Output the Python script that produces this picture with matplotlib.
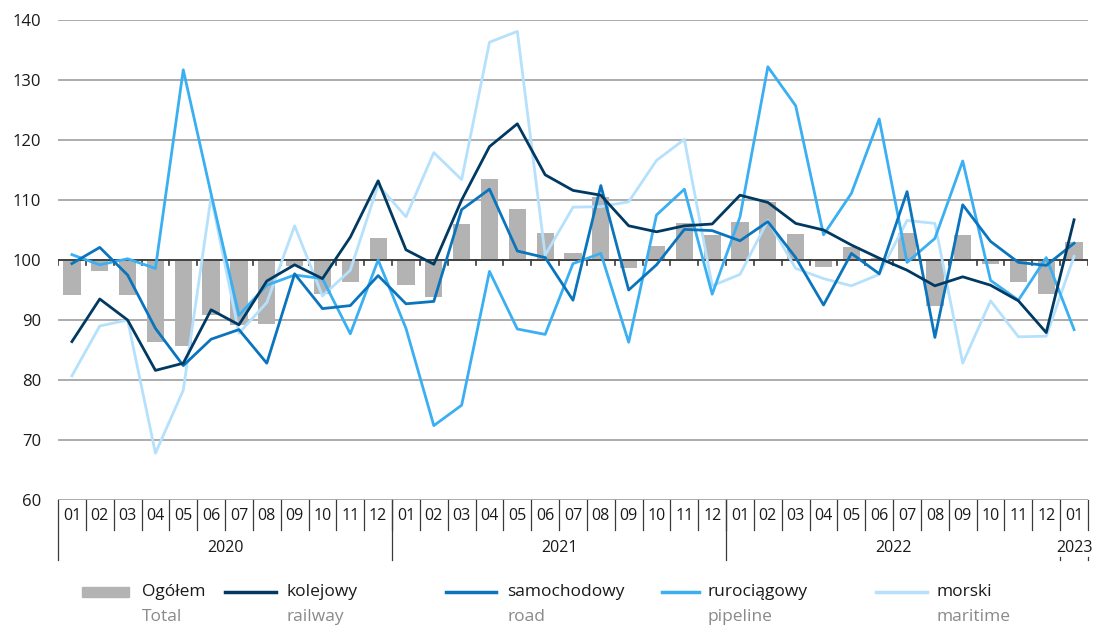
import matplotlib
matplotlib.use("Agg")
import matplotlib.pyplot as plt
from matplotlib.transforms import blended_transform_factory
import numpy as np

plt.rcParams['font.family'] = ['Open Sans', 'DejaVu Sans']

months = ["01","02","03","04","05","06","07","08","09","10","11","12"] * 3 + ["01"]
years = ["2020", "2021", "2022", "2023"]
year_counts = [12, 12, 12, 1]

total = [94.1, 98.2, 94.2, 86.4, 85.6, 90.8, 89.2, 89.3, 99.0, 94.3, 96.4, 103.6,
         95.8, 93.8, 106.0, 113.5, 108.5, 104.5, 101.2, 110.5, 98.7, 102.3, 106.1, 104.1,
         106.4, 109.6, 104.3, 98.8, 102.2, 100.4, 104.5, 92.4, 104.2, 99.3, 96.4, 94.4,
         103.0]
railway = [86.4, 93.5, 90.0, 81.6, 82.8, 91.7, 89.2, 96.5, 99.2, 96.9, 103.8, 113.2,
           101.7, 99.3, 110.0, 118.9, 122.7, 114.2, 111.6, 110.8, 105.7, 104.7, 105.7, 106.0,
           110.8, 109.6, 106.1, 105.0, 102.5, 100.3, 98.3, 95.7, 97.2, 95.8, 93.2, 87.9,
           106.7]
road = [99.4, 102.1, 97.5, 88.6, 82.4, 86.8, 88.4, 82.8, 97.7, 91.9, 92.4, 97.4,
        92.7, 93.1, 108.4, 111.8, 101.5, 100.4, 93.3, 112.4, 95.0, 99.2, 105.1, 104.9,
        103.2, 106.4, 100.4, 92.5, 101.1, 97.7, 111.4, 87.1, 109.2, 103.1, 99.6, 99.1,
        102.8]
pipeline = [100.9, 99.2, 100.2, 98.6, 131.7, 111.0, 90.8, 95.8, 97.5, 96.9, 87.7, 100.0,
            88.6, 72.4, 75.8, 98.1, 88.5, 87.6, 99.4, 101.1, 86.3, 107.5, 111.8, 94.3,
            107.2, 132.2, 125.7, 104.2, 111.1, 123.5, 99.6, 103.6, 116.5, 96.6, 93.3, 100.4,
            88.4]
maritime = [80.7, 89.0, 90.0, 67.8, 78.3, 110.6, 87.8, 92.9, 105.7, 94.0, 98.3, 112.5,
            107.2, 117.9, 113.4, 136.3, 138.1, 100.8, 108.8, 108.9, 109.7, 116.6, 120.1, 95.7,
            97.6, 106.6, 98.6, 96.9, 95.7, 97.6, 106.6, 106.1, 82.8, 93.2, 87.2, 87.3,
            100.6]

series_names = ["Ogółem", "kolejowy", "samochodowy", "rurociągowy", "morski"]
series_en = ["Total", "railway", "road", "pipeline", "maritime"]
yticks = [60, 70, 80, 90, 100, 110, 120, 130, 140]

c_bar = "#B3B3B3"
c_rail = "#003A63"
c_road = "#0A75BD"
c_pipe = "#3AAFF2"
c_mar = "#B5E1FD"

W, H = 1101, 627
fig = plt.figure(figsize=(W / 100, H / 100), dpi=100)
x0, x1, y0, y1 = 58, 1088, 20, 500
ax = fig.add_axes([x0 / W, 1 - y1 / H, (x1 - x0) / W, (y1 - y0) / H])

n = len(months)
x = np.arange(n)
ax.set_xlim(-0.5, n - 0.5)
ax.set_ylim(60, 140)

for yv in yticks:
    ax.axhline(yv, color="#A6A6A6", lw=1.3, zorder=0)

base = 100
ax.bar(x, np.array(total) - base, bottom=base, width=0.62, color=c_bar, zorder=1)
ax.axhline(100, color="#3A3A3A", lw=1.3, zorder=2)
for b in np.arange(-0.5, n, 1.0):
    ax.plot([b, b], [100, 99.2], color="#3A3A3A", lw=1.2, zorder=2)

lw = 2.0
ax.plot(x, maritime, color=c_mar, lw=lw, zorder=3)
ax.plot(x, pipeline, color=c_pipe, lw=lw, zorder=4)
ax.plot(x, road, color=c_road, lw=lw, zorder=5)
ax.plot(x, railway, color=c_rail, lw=lw, zorder=6)

for s in ax.spines.values():
    s.set_visible(False)
ax.set_xticks([])
ax.set_yticks(yticks)
ax.set_yticklabels([str(v) for v in yticks], fontsize=12, color="#1a1a1a")
ax.tick_params(axis="y", length=0, pad=12)

# category axis (multi-level)
tr = blended_transform_factory(ax.transData, fig.transFigure)
def fy(py):
    return 1 - py / H

for i, m in enumerate(months):
    ax.text(i, fy(516), m, transform=tr, ha="center", va="center", fontsize=11.5, color="#1a1a1a")
for b in np.arange(0.5, n - 1, 1.0):
    ax.plot([b, b], [fy(500), fy(530)], transform=tr, color="#3A3A3A", lw=0.9, clip_on=False)

start = 0
for yname, cnt in zip(years, year_counts):
    left = start - 0.5
    right = start + cnt - 0.5
    ax.text((left + right) / 2, fy(548), yname, transform=tr, ha="center", va="center",
            fontsize=11.5, color="#1a1a1a")
    if start < n - 1:
        ax.plot([left, left], [fy(500), fy(560)], transform=tr, color="#3A3A3A", lw=0.9, clip_on=False)
    start += cnt
ax.plot([n - 0.5, n - 0.5], [fy(500), fy(530)], transform=tr, color="#3A3A3A", lw=0.9, clip_on=False)
for xb in [n - 1.5, n - 0.5]:
    ax.plot([xb, xb], [fy(557), fy(560)], transform=tr, color="#3A3A3A", lw=0.9, clip_on=False)

# legend
row1, row2 = 592, 617
leg_items = [
    ("bar", c_bar, 82, 129, 142),
    ("line", c_rail, 225, 276, 286),
    ("line", c_road, 446, 496, 507),
    ("line", c_pipe, 662, 699, 708),
    ("line", c_mar, 876, 927, 936),
]
for (kind, col, lx0, lx1, tx), nm, en in zip(leg_items, series_names, series_en):
    if kind == "bar":
        fig.patches.append(plt.Rectangle((lx0 / W, fy(597)), (lx1 - lx0) / W, 10 / H,
                                         transform=fig.transFigure, color=col))
    else:
        fig.lines.append(plt.Line2D([lx0 / W, lx1 / W], [fy(row1), fy(row1)],
                                    transform=fig.transFigure, color=col, lw=2.5))
    fig.text(tx / W, fy(row1), nm, ha="left", va="center", fontsize=12.5, color="#1a1a1a")
    fig.text(tx / W, fy(row2), en, ha="left", va="center", fontsize=12.5, color="#8a8a8a")

fig.savefig("out.png", dpi=100)
